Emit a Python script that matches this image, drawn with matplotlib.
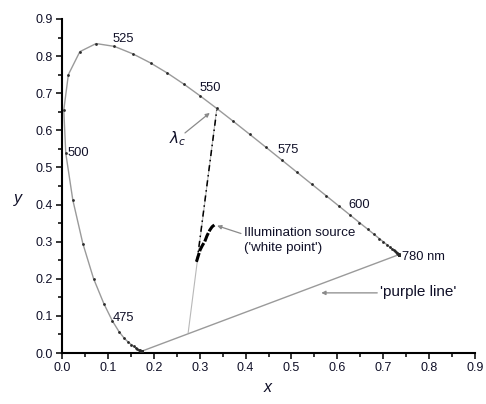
import matplotlib
matplotlib.use("Agg")
import matplotlib.pyplot as plt
from matplotlib.ticker import MultipleLocator

# CIE 1931 spectral locus, 5 nm steps (380-780 nm)
wavelengths = list(range(380, 785, 5))
x_locus = [0.1741, 0.1740, 0.1738, 0.1736, 0.1733, 0.1730, 0.1726, 0.1721, 0.1714, 0.1703,
           0.1689, 0.1669, 0.1644, 0.1611, 0.1566, 0.1510, 0.1440, 0.1355, 0.1241, 0.1096,
           0.0913, 0.0687, 0.0454, 0.0235, 0.0082, 0.0039, 0.0139, 0.0389, 0.0743, 0.1142,
           0.1547, 0.1929, 0.2296, 0.2658, 0.3016, 0.3373, 0.3731, 0.4087, 0.4441, 0.4788,
           0.5125, 0.5448, 0.5752, 0.6029, 0.6270, 0.6482, 0.6658, 0.6801, 0.6915, 0.7006,
           0.7079, 0.7140, 0.7190, 0.7230, 0.7260, 0.7283, 0.7300, 0.7311, 0.7320, 0.7327,
           0.7334, 0.7340, 0.7344, 0.7346, 0.7347, 0.7347, 0.7347, 0.7347, 0.7347, 0.7347,
           0.7347, 0.7347, 0.7347, 0.7347, 0.7347, 0.7347, 0.7347, 0.7347, 0.7347, 0.7347,
           0.7347]
y_locus = [0.0050, 0.0050, 0.0049, 0.0049, 0.0048, 0.0048, 0.0048, 0.0048, 0.0051, 0.0058,
           0.0069, 0.0086, 0.0109, 0.0138, 0.0177, 0.0227, 0.0297, 0.0399, 0.0578, 0.0868,
           0.1327, 0.2007, 0.2950, 0.4127, 0.5384, 0.6548, 0.7502, 0.8120, 0.8338, 0.8262,
           0.8059, 0.7816, 0.7543, 0.7243, 0.6923, 0.6589, 0.6245, 0.5896, 0.5547, 0.5202,
           0.4866, 0.4544, 0.4242, 0.3965, 0.3725, 0.3514, 0.3340, 0.3197, 0.3083, 0.2993,
           0.2920, 0.2859, 0.2809, 0.2770, 0.2740, 0.2717, 0.2700, 0.2689, 0.2680, 0.2673,
           0.2666, 0.2660, 0.2656, 0.2654, 0.2653, 0.2653, 0.2653, 0.2653, 0.2653, 0.2653,
           0.2653, 0.2653, 0.2653, 0.2653, 0.2653, 0.2653, 0.2653, 0.2653, 0.2653, 0.2653,
           0.2653]

# wavelength labels and their positions
wl_labels = ["525", "550", "575", "600", "500", "475", "780 nm"]
wl_label_x = [0.111, 0.300, 0.470, 0.623, 0.013, 0.111, 0.741]
wl_label_y = [0.846, 0.714, 0.547, 0.399, 0.539, 0.094, 0.259]

# illumination source (white point) curve
src_x = [0.293, 0.297, 0.301, 0.306, 0.311, 0.316, 0.322, 0.327, 0.332]
src_y = [0.246, 0.262, 0.278, 0.290, 0.300, 0.316, 0.331, 0.340, 0.345]

# dominant-wavelength construction line (purple-line point -> locus point)
dom_x = [0.275, 0.3373]
dom_y = [0.055, 0.6589]
dom_dash_x = [0.294, 0.3373]
dom_dash_y = [0.245, 0.655]

TXT = "#101028"
plt.rcParams['font.family'] = ['Liberation Sans', 'DejaVu Sans']

fig = plt.figure(figsize=(4.86, 4.04), dpi=100)
ax = fig.add_axes([62/486, 1 - 353/404, (475 - 62)/486, (353 - 19)/404])

# spectral locus
ax.plot(x_locus, y_locus, color="#9a9a9a", lw=1.0, zorder=2)
ax.plot(x_locus, y_locus, ls="none", marker="o", ms=2.0, color="#2a2a2a",
        markeredgewidth=0, zorder=3)
# purple line
ax.plot([x_locus[0], x_locus[-1]], [y_locus[0], y_locus[-1]], color="#9a9a9a", lw=1.0, zorder=2)

# dominant wavelength line
ax.plot(dom_x, dom_y, color="#b8b8b8", lw=0.8, zorder=2)
ax.plot(dom_dash_x, dom_dash_y, color="black", lw=1.1, ls=(0, (4, 2.5, 1, 2.5)), zorder=3)

# white point curve
ax.plot(src_x, src_y, color="black", lw=2.2, ls=(0, (3, 0.6)), zorder=4)

# wavelength labels
for lab, lx, ly in zip(wl_labels, wl_label_x, wl_label_y):
    ax.text(lx, ly, lab, fontsize=9.3, color=TXT, ha="left", va="center", zorder=5)

# annotations
arrowprops = dict(arrowstyle="-|>", color="#8a8a8a", lw=0.9, mutation_scale=6,
                  shrinkA=0, shrinkB=0)
ax.annotate("", xy=(0.322, 0.647), xytext=(0.268, 0.593), arrowprops=arrowprops)
ax.text(0.252, 0.578, r"$\lambda_c$", fontsize=11, color=TXT, ha="center", va="center")

ax.annotate("", xy=(0.338, 0.343), xytext=(0.390, 0.322), arrowprops=arrowprops)
ax.text(0.397, 0.323, "Illumination source", fontsize=9.6, color=TXT, ha="left", va="center")
ax.text(0.397, 0.282, "('white point')", fontsize=9.6, color=TXT, ha="left", va="center")

ax.annotate("", xy=(0.565, 0.162), xytext=(0.687, 0.162), arrowprops=arrowprops)
ax.text(0.693, 0.164, "'purple line'", fontsize=11, color=TXT, ha="left", va="center")

# axes styling
ax.set_xlim(0, 0.9)
ax.set_ylim(0, 0.9)
ax.xaxis.set_major_locator(MultipleLocator(0.1))
ax.xaxis.set_minor_locator(MultipleLocator(0.05))
ax.yaxis.set_major_locator(MultipleLocator(0.1))
ax.yaxis.set_minor_locator(MultipleLocator(0.05))
ax.xaxis.set_major_formatter(lambda v, p: f"{v:.1f}")
ax.yaxis.set_major_formatter(lambda v, p: f"{v:.1f}")
for s in ["top", "right"]:
    ax.spines[s].set_visible(False)
for s in ["left", "bottom"]:
    ax.spines[s].set_linewidth(1.5)
ax.tick_params(which="major", direction="out", length=4.5, width=1.1,
               labelsize=9, labelcolor=TXT, pad=2)
ax.tick_params(which="minor", direction="out", length=2.8, width=1.1)
ax.set_facecolor("white")

fig.text(268/486, 1 - 388/404, "x", fontsize=11.5, style="italic", color=TXT,
         ha="center", va="center")
fig.text(18/486, 1 - 198/404, "y", fontsize=11.5, style="italic", color=TXT,
         ha="center", va="center")

fig.savefig("out.png", dpi=100, facecolor="white")
